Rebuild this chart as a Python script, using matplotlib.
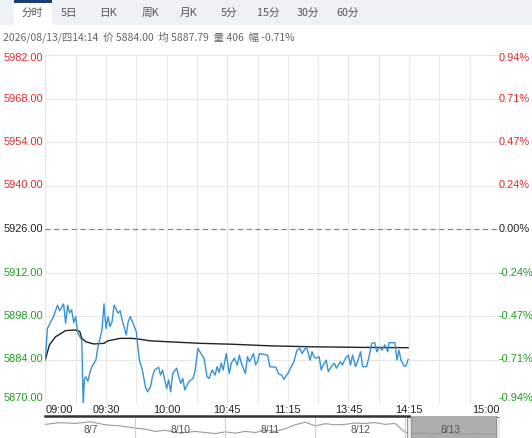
import matplotlib
matplotlib.use("Agg")
import matplotlib.pyplot as plt
from matplotlib.patches import Rectangle
from matplotlib.lines import Line2D

# ---------------- data ----------------
prev_close = 5926.0
y_ticks = [5982, 5968, 5954, 5940, 5926, 5912, 5898, 5884, 5870]

# trading-minute index since 09:00 (sessions 09:00-10:15, 10:30-11:30, 13:30-15:00)
price_min = [0, 1, 4, 6, 7, 9, 10, 11, 12, 13,
             14, 15, 16, 18, 18.7, 19.3, 20, 21, 22, 23,
             25, 26, 28, 29, 30, 31, 32, 33, 34, 36,
             37, 38, 40, 41, 42, 43, 45, 46.5, 48, 49.5,
             50.5, 52, 53, 54, 56, 57, 58, 60, 61, 62,
             63, 65, 66, 67, 68, 69, 71, 73, 74, 75.5,
             77, 78.5, 80, 81, 82.5, 84, 85, 86, 87, 88,
             89.5, 91, 92, 93.5, 95, 96, 97, 99, 100, 101,
             103, 104, 105, 106, 110, 111, 114, 115.5, 117, 118,
             120, 121, 123, 124.5, 126, 127, 128.5, 129.5, 131, 132,
             133, 134, 135.5, 136.5, 137.5, 139, 140, 141.5, 143, 144,
             146, 147, 148.5, 150, 151, 152, 153.5, 154.5, 156, 157,
             159, 160.5, 161.5, 163, 164, 165.5, 166.5, 168, 169.5, 170,
             173, 174, 175, 176, 177.5, 178.5, 179.5]
price = [5884, 5894, 5897.8, 5901.5, 5899.7, 5901.9, 5895.7, 5901.5, 5899, 5900,
         5895.9, 5897.8, 5892.5, 5890.3, 5869.5, 5877.7, 5878.4, 5877, 5879.7, 5881.7,
         5883.8, 5888, 5893.5, 5901.9, 5894, 5897.8, 5894.6, 5896.2, 5901.5, 5898.9,
         5899.7, 5896.7, 5891.9, 5896.2, 5897.8, 5896.2, 5893, 5883.8, 5880.6, 5875.2,
         5873.6, 5875.2, 5878.5, 5880.6, 5881.5, 5879, 5880.6, 5874.7, 5877.4, 5873.6,
         5879.5, 5881.2, 5878.5, 5876.3, 5877.9, 5874.2, 5876.9, 5877.9, 5880, 5887.6,
         5885.9, 5884.4, 5878.5, 5877.9, 5880.6, 5879, 5881.7, 5879.8, 5882.8, 5880.6,
         5885.9, 5879.5, 5882.8, 5884.4, 5882.2, 5885.4, 5882.8, 5879.5, 5884.9, 5883.3,
         5885.9, 5882.2, 5883.3, 5885.9, 5885.4, 5881.7, 5881.5, 5879.3, 5879, 5877.6,
         5879.5, 5880.8, 5883.3, 5887, 5887.6, 5885.9, 5887.5, 5887.5, 5883.8, 5886.5,
         5884.9, 5884.4, 5884.9, 5880.6, 5882.2, 5883.8, 5880.1, 5881.7, 5882.8, 5881.2,
         5883.3, 5882.2, 5884.4, 5885.4, 5882.2, 5885.4, 5881.7, 5883.3, 5886.5, 5881.7,
         5881.7, 5885.9, 5889.2, 5889.4, 5886.5, 5888.1, 5887, 5888.7, 5886.5, 5889.4,
         5889.4, 5883.8, 5887, 5883.8, 5881.9, 5881.9, 5884]
avg_min = [0, 2, 5, 10, 15, 17, 18, 20, 24, 29, 31, 37, 43, 47, 52, 61, 77, 93, 111, 131, 156, 179.5]
avg_price = [5884, 5888.7, 5891.3, 5893.3, 5893.5, 5893, 5890.8, 5889.7, 5889, 5889.2, 5890,
             5890.8, 5890.8, 5890.5, 5890, 5889.7, 5889.2, 5888.9, 5888.4, 5888.1, 5887.9, 5887.8]

time_tick_pos = [0, 30, 60, 90, 120, 150, 180, 225]
time_tick_labels = ["09:00", "09:30", "10:00", "10:45", "11:15", "13:45", "14:15", "15:00"]

tabs = ["分时", "5日", "日K", "周K", "月K", "5分", "15分", "30分", "60分"]
info_text = "2026/08/13/四14:14  价 5884.00  均 5887.79  量 406  幅 -0.71%"

nav_days = ["8/7", "8/10", "8/11", "8/12", "8/13"]
nav_x = [0, 15, 30, 45, 60, 75, 90, 100, 110, 120, 135, 150, 160, 170, 180, 190, 200, 210, 220,
         230, 240, 250, 260, 270, 280, 290, 300, 310, 320, 330, 340, 350, 360, 370, 380, 390,
         400, 410, 420, 430, 440, 450]
nav_y = [0.62, 0.7, 0.66, 0.74, 0.6, 0.55, 0.45, 0.4, 0.3, 0.35, 0.22, 0.3, 0.25, 0.2, 0.28,
         0.22, 0.3, 0.25, 0.35, 0.3, 0.42, 0.6, 0.72, 0.55, 0.65, 0.6, 0.62, 0.68, 0.66, 0.7,
         0.62, 0.66, 0.26, 0.2, 0.22, 0.18, 0.25, 0.2, 0.18, 0.2, 0.17, 0.19]

# ---------------- figure ----------------
W, H = 532, 438
fig = plt.figure(figsize=(W / 100, H / 100), dpi=100)
fig.patch.set_facecolor("white")
NUM = ["Liberation Sans", "DejaVu Sans"]
CJK = ["Noto Sans CJK SC", "DejaVu Sans"]
RED = "#e02a2a"
GREEN = "#1f9e1f"

def fx(px):
    return px / W

def fy(py):
    return 1 - py / H

# tab bar
fig.add_artist(Rectangle((0, fy(25)), 1, 25 / H, transform=fig.transFigure,
                         facecolor="#eef1f6", edgecolor="none", zorder=0))
fig.add_artist(Rectangle((fx(14), fy(25)), 38 / W, 25 / H, transform=fig.transFigure,
                         facecolor="white", edgecolor="none", zorder=1))
fig.add_artist(Rectangle((fx(14), fy(2.5)), 38 / W, 2.5 / H, transform=fig.transFigure,
                         facecolor="#1d3d70", edgecolor="none", zorder=2))
tab_x = [32, 69, 108, 150, 189, 229, 268, 308, 348]
for t, x in zip(tabs, tab_x):
    fig.text(fx(x), fy(13), t, ha="center", va="center", fontsize=7.7,
             color="#555555", family=CJK)
fig.text(fx(3), fy(37), info_text, ha="left", va="center", fontsize=7.5,
         color="#666666", family=CJK)

# main axes
L, R, T, B = 45.4, 500, 55, 403
ax = fig.add_axes([fx(L), fy(B), (R - L) / W, (B - T) / H])
ax.set_xlim(0, 225)
ax.set_ylim(5870, 5982)
for s in ax.spines.values():
    s.set_visible(False)
ax.set_xticks(range(0, 226, 15))
ax.set_yticks(y_ticks)
ax.grid(True, color="#e8e8e8", linewidth=0.8)
ax.tick_params(length=0, labelleft=False, labelbottom=False)
ax.axhline(prev_close, color="#888888", linewidth=0.9, linestyle=(0, (4, 3)), zorder=2)
ax.plot(avg_min, avg_price, color="#222222", linewidth=1.0, zorder=3)
ax.plot(price_min, price, color="#3592d8", linewidth=1.0, zorder=4)

# y labels
for v in y_ticks:
    py = T + (5982 - v) / (5982 - 5870) * (B - T)
    py = min(max(py, 58), 398)
    col = RED if v > prev_close else (GREEN if v < prev_close else "#222222")
    fig.text(fx(43), fy(py), f"{v:.2f}", ha="right", va="center", fontsize=7.9,
             color=col, family=NUM)
    pct = (v - prev_close) / prev_close * 100
    fig.text(fx(498.5), fy(py), f"{pct:.2f}%", ha="left", va="center", fontsize=7.9,
             color=col, family=NUM)

# x labels
for m, lab in zip(time_tick_pos, time_tick_labels):
    px = L + m / 225 * (R - L)
    ha = "center"
    if m == 0:
        ha, px = "left", L
    elif m == 225:
        ha, px = "right", R
    fig.text(fx(px), fy(410), lab, ha=ha, va="center", fontsize=7.9,
             color="#222222", family=NUM)

# navigator
nav = fig.add_axes([fx(L), 0, (R - L) / W, 22 / H])
nav.set_xlim(0, 455)
nav.set_ylim(0, 1)
nav.axis("off")
nav.plot(nav_x, nav_y, color="#9a9a9a", linewidth=0.8)
for i in range(1, 5):
    nav.axvline(i * 90, color="#cfcfcf", linewidth=0.8)
for i, d in enumerate(nav_days):
    nav.text(i * 90 + 45, 0.35, d, ha="center", va="center", fontsize=7.4,
             color="#555555", family=NUM)
nav.add_patch(Rectangle((364, 0), 89, 1, facecolor="#a0a0a0", alpha=0.85,
                        edgecolor="none", zorder=0))
nav.add_patch(Rectangle((362, 0), 4, 0.95, facecolor="#e8e8e8", edgecolor="#888888",
                        linewidth=0.6, zorder=3))
nav.add_patch(Rectangle((451, 0), 4, 0.95, facecolor="#e8e8e8", edgecolor="#888888",
                        linewidth=0.6, zorder=3))
fig.add_artist(Line2D([fx(L), fx(409)], [fy(416), fy(416)], transform=fig.transFigure,
                      color="#333333", linewidth=1.8))

fig.savefig("out.png", dpi=100)
